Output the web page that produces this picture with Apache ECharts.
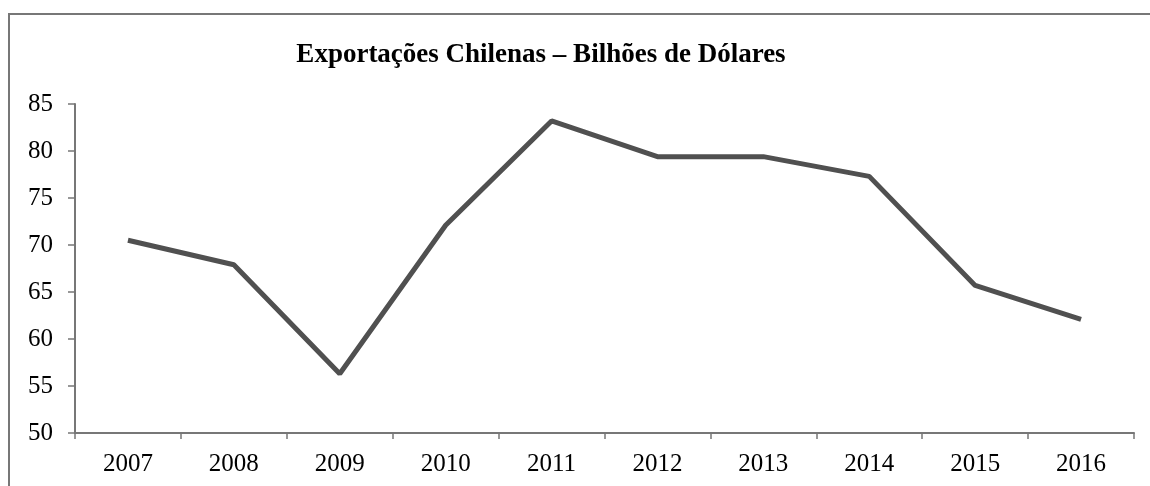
<!DOCTYPE html>
<html>
<head>
<meta charset="utf-8">
<script src="https://cdn.jsdelivr.net/npm/echarts@6/dist/echarts.min.js"></script>
<style>
  html, body { margin: 0; padding: 0; background: #fff; }
  #chart { width: 1150px; height: 486px; }
</style>
</head>
<body>
<div id="chart"></div>
<script>
const years = ['2007', '2008', '2009', '2010', '2011', '2012', '2013', '2014', '2015', '2016'];
const exports = [70.5, 67.9, 56.3, 72.1, 83.2, 79.4, 79.4, 77.3, 65.7, 62.1];
const yMin = 50;
const yMax = 85;
const yStep = 5;

const chart = echarts.init(document.getElementById('chart'));
const serif = '"Liberation Serif", "DejaVu Serif", serif';

const options = {
    animation: false,
    backgroundColor: '#fff',
    title: {
        text: 'Exportações Chilenas – Bilhões de Dólares',
        left: 536,
        textAlign: 'center',
        top: 37,
        textStyle: { fontFamily: serif, fontWeight: 'bold', fontSize: 27, color: '#000' }
    },
    graphic: [{
        type: 'rect',
        shape: { x: 9, y: 14, width: 1300, height: 600 },
        style: { fill: 'none', stroke: '#777', lineWidth: 2 }
    }],
    grid: { left: 75, right: 16, top: 104, bottom: 53 },
    xAxis: {
        type: 'category',
        data: years,
        boundaryGap: true,
        axisLine: { lineStyle: { color: '#777', width: 2 } },
        axisTick: { show: true, length: 6, lineStyle: { color: '#777', width: 1.5 } },
        axisLabel: { color: '#000', fontFamily: serif, fontSize: 25, margin: 19 }
    },
    yAxis: {
        type: 'value',
        min: yMin,
        max: yMax,
        interval: yStep,
        splitLine: { show: false },
        axisLine: { show: true, lineStyle: { color: '#777', width: 2 } },
        axisTick: { show: true, length: 7, lineStyle: { color: '#777', width: 1.5 } },
        axisLabel: { color: '#000', fontFamily: serif, fontSize: 25, margin: 22 }
    },
    series: [{
        type: 'line',
        data: exports,
        symbol: 'none',
        lineStyle: { color: '#505050', width: 5 }
    }]
};

chart.setOption(options);
</script>
</body>
</html>
